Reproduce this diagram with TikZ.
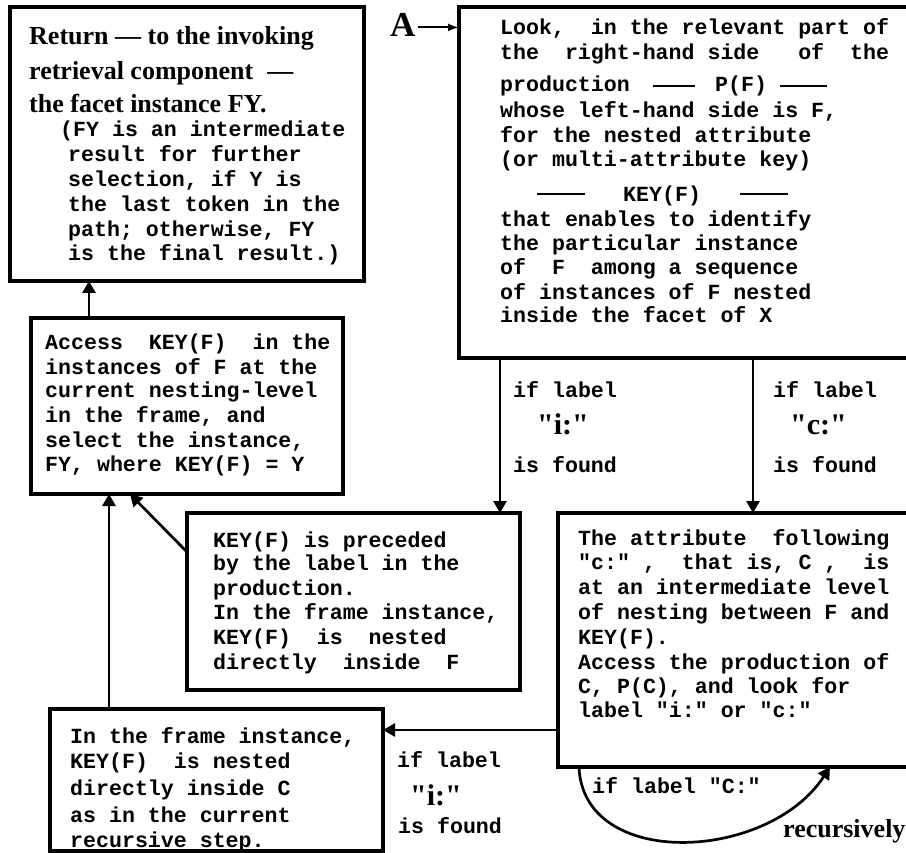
\documentclass[tikz,border=0pt]{standalone}
\usepackage{fontspec}
\setmainfont{Liberation Serif}[Ligatures=TeXOff]
\setmonofont{Liberation Mono}
\usetikzlibrary{arrows.meta}

\tikzset{
  box/.style={draw, line width=3.3pt, inner sep=0pt, outer sep=0pt},
  mono/.style={anchor=base west, inner sep=0pt, font=\ttfamily\bfseries\fontsize{21.6}{24}\selectfont},
  serifb/.style={anchor=base west, inner sep=0pt, font=\rmfamily\bfseries\fontsize{26}{30}\selectfont},
  cond/.style={anchor=base west, inner sep=0pt, font=\rmfamily\bfseries\fontsize{30}{34}\selectfont},
  arr/.style={line width=2.7pt, -{Triangle[length=12pt,width=13pt]}},
  dashrule/.style={line width=1.6pt},
}

\begin{document}
\begin{tikzpicture}[x=1pt, y=-1pt]
\useasboundingbox (0,0) rectangle (906,853);
\clip (0,0) rectangle (906,853);

% boxes
\node[box, minimum width=354pt, minimum height=274pt] (b1) at (187,144) {};
\node[box, minimum width=501pt, minimum height=351pt] (bA) at (709.5,182.5) {};
\node[box, minimum width=312pt, minimum height=176pt] (b2) at (187,406) {};
\node[box, minimum width=333pt, minimum height=177pt] (b3) at (353.5,601.5) {};
\node[box, minimum width=333pt, minimum height=142pt] (b4) at (216.5,780) {};
\node[box, minimum width=402pt, minimum height=254pt] (b5) at (759,640) {};

% return box
\node[serifb] (t1a) at (29,45) {Return — to the invoking};
\node[serifb] (t1b) at (29,80) {retrieval component\hspace{14pt}—};
\node[serifb] (t1c) at (29,113) {the facet instance FY.};
\node[mono] (t1d) at (60,137) {(FY is an intermediate};
\node[mono] (t1e) at (68,162) {result for further};
\node[mono] (t1f) at (68,187) {selection, if Y is};
\node[mono] (t1g) at (68,212) {the last token in the};
\node[mono] (t1h) at (68,237) {path; otherwise, FY};
\node[mono] (t1i) at (68,261) {is the final result.)};

% entry point
\node[anchor=base west, inner sep=0pt, font=\rmfamily\bfseries\fontsize{35}{40}\selectfont] (A) at (390,37) {A};
\draw[line width=2pt, -{Latex[length=11pt,width=8pt]}] ([xshift=2pt,yshift=-2pt]A.east) -- ([yshift=-2pt]A.east -| bA.west);

% lookup box
\node[mono] (tAa) at (500,35) {Look,~~in the relevant part of};
\node[mono] (tAb) at (500,60) {the~~right-hand side~~~of~~the};
\node[mono] (tAc) at (500,92) {production};
\node[mono] (tAd) at (715,92) {P(F)};
\draw[dashrule] (653,86) -- (695,86);
\draw[dashrule] (780,86) -- (827,86);
\node[mono] (tAe) at (500,118) {whose left-hand side is F,};
\node[mono] (tAf) at (500,143) {for the nested attribute};
\node[mono] (tAg) at (500,167) {(or multi-attribute key)};
\node[mono] (tAh) at (623,202) {KEY(F)};
\draw[dashrule] (537,194) -- (585,194);
\draw[dashrule] (740,194) -- (788,194);
\node[mono] (tAi) at (500,227) {that enables to identify};
\node[mono] (tAj) at (500,251) {the particular instance};
\node[mono] (tAk) at (500,275) {of~~F~~among a sequence};
\node[mono] (tAl) at (500,300) {of instances of F nested};
\node[mono] (tAm) at (500,323) {inside the facet of X};

% access box
\node[mono] (t2a) at (45,350) {Access~~KEY(F)~~in the};
\node[mono] (t2b) at (45,374) {instances of F at the};
\node[mono] (t2c) at (45,398) {current nesting-level};
\node[mono] (t2d) at (45,422) {in the frame, and};
\node[mono] (t2e) at (45,447) {select the instance,};
\node[mono] (t2f) at (45,471) {FY, where KEY(F) = Y};

% label case box
\node[mono] (t3a) at (213,547) {KEY(F) is preceded};
\node[mono] (t3b) at (213,570) {by the label in the};
\node[mono] (t3c) at (213,595) {production.};
\node[mono] (t3d) at (213,619) {In the frame instance,};
\node[mono] (t3e) at (213,644) {KEY(F)~~is~~nested};
\node[mono] (t3f) at (213,669) {directly~~inside~~F};

% nested case box
\node[mono] (t4a) at (70,743) {In the frame instance,};
\node[mono] (t4b) at (70,768) {KEY(F)~~is nested};
\node[mono] (t4c) at (70,795) {directly inside C};
\node[mono] (t4d) at (70,822) {as in the current};
\node[mono] (t4e) at (70,847) {recursive step.};

% intermediate attribute box
\node[mono] (t5a) at (578,545) {The attribute~~following};
\node[mono] (t5b) at (578,569) {"c:" ,~~that is, C ,~~is};
\node[mono] (t5c) at (578,594) {at an intermediate level};
\node[mono] (t5d) at (578,619) {of nesting between F and};
\node[mono] (t5e) at (578,644) {KEY(F).};
\node[mono] (t5f) at (578,669) {Access the production of};
\node[mono] (t5g) at (578,693) {C, P(C), and look for};
\node[mono] (t5h) at (578,717) {label "i:" or "c:"};

% branch labels
\node[mono] (l1a) at (513,397) {if label};
\node[cond] (l1b) at (537,435) {"i:"};
\node[mono] (l1c) at (513,472) {is found};
\node[mono] (l2a) at (773,397) {if label};
\node[cond] (l2b) at (790,435) {"c:"};
\node[mono] (l2c) at (773,472) {is found};
\node[mono] (l3a) at (397,767) {if label};
\node[cond] (l3b) at (410,805) {"i:"};
\node[mono] (l3c) at (398,833) {is found};
\node[mono] (l4) at (592,793) {if label "C:"};
\node[serifb] (l5) at (783,837) {recursively};

% connectors
\coordinate (xa) at (89,0);
\coordinate (xb) at (109,0);
\coordinate (xc) at (500,0);
\coordinate (xd) at (753,0);
\coordinate (xe) at (130,0);
\coordinate (xf) at (579,0);
\coordinate (xg) at (830,0);
\coordinate (yh) at (0,730);
\coordinate (yd) at (0,552);

\draw[arr] (b2.north -| xa) -- (b1.south -| xa);
\draw[arr] (b4.north -| xb) -- (b2.south -| xb);
\draw[arr] (b3.west |- yd) -- (b2.south -| xe);
\draw[arr] (bA.south -| xc) -- (b3.north -| xc);
\draw[arr] (bA.south -| xd) -- (b5.north -| xd);
\draw[arr] (b5.west |- yh) -- (b4.east |- yh);
\draw[arr] (b5.south -| xf) .. controls (583,870) and (768,862) .. (b5.south -| xg);
\end{tikzpicture}
\end{document}
